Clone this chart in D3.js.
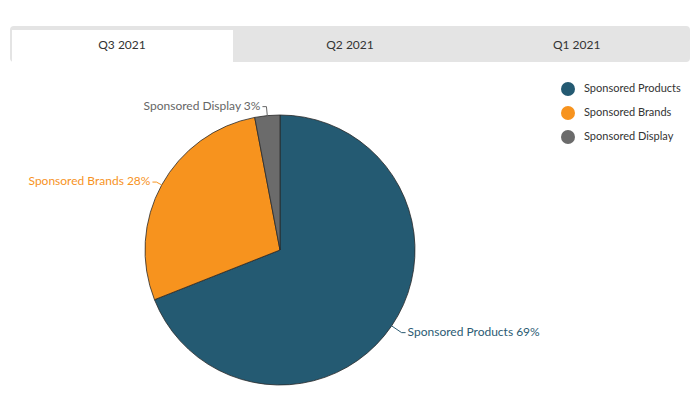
<!DOCTYPE html>
<html>
<head>
<meta charset="utf-8">
<script src="https://cdn.jsdelivr.net/npm/d3@7"></script>
<style>
  body { margin: 0; background: #fff; font-family: Lato, "Open Sans", sans-serif; }
  #chart { width: 700px; height: 397px; }
</style>
</head>
<body>
<div id="chart"></div>
<script>
// data
const tabs = ["Q3 2021", "Q2 2021", "Q1 2021"];
const categories = ["Sponsored Products", "Sponsored Brands", "Sponsored Display"];
const shares = [69, 28, 3];
const colors = ["#245a72", "#f7931e", "#6b6b6b"];
const labelColors = ["#2b5b73", "#f7931e", "#666666"];

const svg = d3.select("#chart").append("svg")
    .attr("width", 700)
    .attr("height", 397);

// tab strip
const tabX = d3.scaleBand().domain(tabs).range([10, 690]);
svg.append("rect")
    .attr("x", 10).attr("y", 26)
    .attr("width", 680).attr("height", 36)
    .attr("rx", 4)
    .attr("fill", "#e4e4e4");

svg.append("rect")
    .attr("x", 12).attr("y", 30)
    .attr("width", 221).attr("height", 32)
    .attr("fill", "#fff");

svg.selectAll(".tab")
    .data(tabs)
    .enter()
    .append("text")
    .attr("x", (d, i) => i === 0 ? 122 : tabX(d) + tabX.bandwidth() / 2)
    .attr("y", 46)
    .attr("text-anchor", "middle")
    .attr("dominant-baseline", "middle")
    .attr("font-size", 12)
    .attr("fill", "#333")
    .text(d => d);

// pie
const cx = 280, cy = 250, r = 135;
const g = svg.append("g").attr("transform", `translate(${cx}, ${cy})`);

const pie = d3.pie().sort(null).value(d => d.v);
const arcs = pie(categories.map((c, i) => ({ name: c, v: shares[i], i: i })));
const arc = d3.arc().innerRadius(0).outerRadius(r);

g.selectAll("path")
    .data(arcs)
    .enter()
    .append("path")
    .attr("d", arc)
    .attr("fill", d => colors[d.data.i])
    .attr("stroke", "#2a2a2a")
    .attr("stroke-width", 0.8);

// data labels with short leader lines
const outPad = [12, 6, 9];
arcs.forEach(d => {
    const a = (d.startAngle + d.endAngle) / 2;
    const dx = Math.sin(a), dy = -Math.cos(a);
    const p0 = [dx * r, dy * r];
    const p1 = [dx * (r + outPad[d.data.i]), dy * (r + outPad[d.data.i])];
    const right = dx > 0;
    const p2 = [p1[0] + (right ? 4 : -4), p1[1]];
    g.append("path")
        .attr("d", d3.line()([p0, p1, p2]))
        .attr("fill", "none")
        .attr("stroke", labelColors[d.data.i])
        .attr("stroke-width", 1);
    g.append("text")
        .attr("x", p2[0] + (right ? 2 : -2))
        .attr("y", p2[1])
        .attr("text-anchor", right ? "start" : "end")
        .attr("dominant-baseline", "middle")
        .attr("font-size", 12)
        .attr("fill", labelColors[d.data.i])
        .text(`${d.data.name} ${d.data.v}%`);
});

// legend
const legY = d3.scalePoint().domain(categories).range([89, 137]);
const leg = svg.selectAll(".leg")
    .data(categories)
    .enter()
    .append("g")
    .attr("transform", d => `translate(568, ${legY(d)})`);

leg.append("circle")
    .attr("r", 7)
    .attr("fill", (d, i) => colors[i]);

leg.append("text")
    .attr("x", 16)
    .attr("dominant-baseline", "middle")
    .attr("font-size", 11)
    .attr("fill", "#333")
    .text(d => d);
</script>
</body>
</html>
